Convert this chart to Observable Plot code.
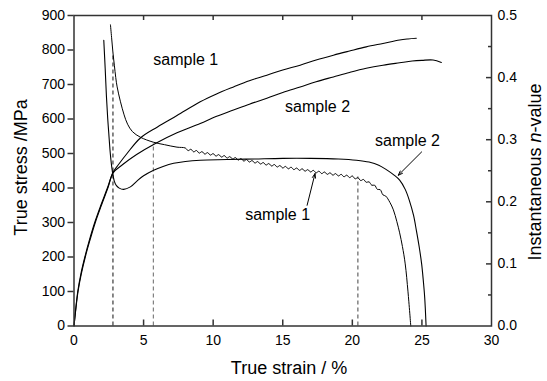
<!DOCTYPE html>
<html><head><meta charset="utf-8">
<script src="https://cdn.jsdelivr.net/npm/d3@7"></script>
<script src="https://cdn.jsdelivr.net/npm/@observablehq/plot@0.6"></script>
<style>body{margin:0;background:#fff;} svg{display:block}</style>
</head><body><div id="chart"></div>
<script>
// ---- data ----
const strainStress1 = [0,0.1,0.27,0.5,0.78,1.1,1.49,1.95,2.42,2.81,3.2,3.81,4.77,6,7.4,9.07,10.2,11.46,12.6,13.86,15,16.25,17.4,18.64,19.8,21,22.2,23.4,24.0,24.6];
const stress1 = [0,40,100,152,200,248,300,352,402,446,468,500,545,577,610,650,672,693,711,727,742,756,771,785,797,809,819,829,832,834];
const strainStress2 = [0,0.1,0.29,0.52,0.81,1.14,1.53,1.99,2.45,2.81,3.5,4.5,5.85,7.4,9.07,10.2,11.46,12.6,13.86,15,16.25,17.4,18.64,19.8,21,22.2,23.4,24.3,25.0,25.8,26.4];
const stress2 = [0,38,100,150,200,248,300,352,402,444,468,497,529,560,587,607,626,643,660,677,693,708,722,735,747,756,763,768,770,771,764];
// sample 1 n-value (serrated)
const strainN1 = [2.62,2.7,2.8,2.9,3.0,3.1,3.33,3.6,3.85,4.2,4.77,5.7,6.5,7.4,
  8.0,8.2,8.4,8.6,8.8,9.0,9.2,9.4,9.6,9.8,10.0,10.2,10.4,10.6,10.8,11.0,11.2,11.4,11.6,11.8,
  12.0,12.2,12.4,12.6,12.8,13.0,13.2,13.4,13.6,13.8,14.0,14.2,14.4,14.6,14.8,15.0,15.2,15.4,15.6,15.8,
  16.0,16.2,16.4,16.6,16.8,17.0,17.2,17.4,17.6,17.8,18.0,18.2,18.4,18.6,18.8,19.0,19.2,19.4,19.6,19.8,
  20.0,20.2,20.4,20.6,20.8,21.0,21.2,21.4,21.6,21.8,22.0,22.2,22.4,
  22.7,22.95,23.2,23.4,23.6,23.8,24.0,24.2];
const n1 = [0.485,0.465,0.44,0.42,0.40,0.385,0.362,0.340,0.325,0.313,0.304,0.296,0.292,0.288,
  0.2866,0.2824,0.2846,0.2804,0.2826,0.2784,0.2808,0.2768,0.2792,0.2752,0.2776,0.2736,0.2760,0.2720,0.2744,0.2704,0.2728,0.2688,0.2712,0.2672,
  0.2696,0.2656,0.2680,0.2640,0.2664,0.2624,0.2648,0.2608,0.2632,0.2592,0.2616,0.2576,0.2600,0.2560,0.2584,0.2544,0.2570,0.2531,0.2557,0.2518,
  0.2544,0.2506,0.2531,0.2493,0.2518,0.2480,0.2506,0.2467,0.2493,0.2454,0.2480,0.2442,0.2467,0.2429,0.2454,0.2416,0.2442,0.2403,0.2429,0.2390,
  0.2416,0.2370,0.2388,0.2342,0.2360,0.2314,0.2322,0.2266,0.2268,0.2200,0.2196,0.2112,0.2092,
  0.1990,0.1870,0.1680,0.1500,0.1280,0.1000,0.0550,0];
// sample 2 n-value (smooth)
const strainN2 = [2.14,2.24,2.33,2.42,2.5,2.62,2.75,2.9,3.05,3.25,3.57,4.05,4.5,5.0,5.72,6.4,7.16,8.0,9.07,11,13,15,17,19,20.3,21.2,21.9,22.5,23.0,23.4,23.8,24.1,24.4,24.6,24.8,24.98,25.1,25.2,25.3];
const n2 = [0.46,0.415,0.37,0.335,0.31,0.275,0.25,0.233,0.226,0.222,0.220,0.224,0.233,0.242,0.251,0.257,0.262,0.265,0.267,0.268,0.269,0.270,0.270,0.269,0.267,0.264,0.259,0.251,0.243,0.235,0.220,0.202,0.178,0.154,0.128,0.100,0.073,0.046,0];
const dashStrain = [2.8, 5.7, 20.4];
const dashTopN = [0.44, 0.294, 0.240];
const dashColor = ["#111", "#666", "#444"];
const xTicks = [0,5,10,15,20,25,30];
const stressTicks = [0,100,200,300,400,500,600,700,800,900];
const nTicks = [0,0.1,0.2,0.3,0.4,0.5];
const nMinor = [0.05,0.15,0.25,0.35,0.45];
// annotations (strain, stress) for text; arrows in (strain, n)
const labelText = ["sample 1","sample 2","sample 2","sample 1"];
const labelStrain = [5.7, 15.17, 21.63, 12.3];
const labelStress = [771, 634, 538, 321];
const arrowFromStrain = [24.98, 16.75];
const arrowFromN = [0.2803, 0.1944];
const arrowToStrain = [23.3, 17.32];
const arrowToN = [0.2427, 0.2455];

// ---- build ----
const N = 1800; // n-value -> stress-axis units (0.5 -> 900)
const rows = (xs, ys, k=1) => xs.map((x,i)=>({x, y: ys[i]*k}));
const W=547, H=381, mL=73.5, mR=56, mT=15, mB=55.5;
const pW = W-mL-mR, pH = H-mT-mB;
const lineOpts = {x:"x", y:"y", stroke:"#000", strokeWidth:1.1, curve:"catmull-rom"};
const dashes = dashStrain.map((x,i)=>({x, top: dashTopN[i]*N, c: dashColor[i]}));
const labels = labelText.map((t,i)=>({t, x: labelStrain[i], y: labelStress[i]}));
const arrows = arrowFromStrain.map((x,i)=>({x1:x, y1:arrowFromN[i]*N, x2:arrowToStrain[i], y2:arrowToN[i]*N}));

const chart = Plot.plot({
  width: W, height: H,
  marginLeft: mL, marginRight: mR, marginTop: mT, marginBottom: mB,
  x: {domain:[0,30]},
  y: {domain:[0,900]},
  style: {fontFamily: "'Liberation Sans', Arial, sans-serif", background:"#fff", color:"#000"},
  marks: [
    Plot.ruleX(dashes, {x:"x", y1:0, y2:"top", stroke:"c", strokeWidth:1, strokeDasharray:"4,3"}),
    Plot.line(rows(strainStress1, stress1), lineOpts),
    Plot.line(rows(strainStress2, stress2), lineOpts),
    Plot.line(rows(strainN1, n1, N), {...lineOpts, strokeWidth:1}),
    Plot.line(rows(strainN2, n2, N), lineOpts),
    Plot.arrow(arrows, {x1:"x1", y1:"y1", x2:"x2", y2:"y2", stroke:"#000", strokeWidth:1, headLength:7, headAngle:40}),
    Plot.text(labels, {x:"x", y:"y", text:"t", textAnchor:"start", lineAnchor:"middle", fontSize:16, fill:"#000"}),
    Plot.frame({stroke:"#333", strokeWidth:1.5}),
    Plot.axisY({anchor:"left", ticks: stressTicks, tickSize:6, tickPadding:3, label:null, fontSize:14, stroke:"#333", strokeWidth:1.5}),
    Plot.axisX({anchor:"bottom", ticks: xTicks, tickSize:0, tickPadding:9, label:null, fontSize:14}),
    Plot.axisY({anchor:"right", ticks: nTicks.map(v=>v*N), tickFormat: d => (d/N).toFixed(1), tickSize:0, tickPadding:6, label:null, fontSize:14}),
    Plot.tickX(xTicks.slice(1,-1), {x: d=>d, insetTop: pH-6, stroke:"#333", strokeWidth:1.5}),
    Plot.tickX(xTicks.slice(1,-1), {x: d=>d, insetBottom: pH-5, stroke:"#333", strokeWidth:1.5}),
    Plot.tickY(nTicks.slice(1,-1), {y: d=>d*N, insetLeft: pW-5, stroke:"#333", strokeWidth:1.5}),
    Plot.tickY(nMinor, {y: d=>d*N, insetLeft: pW-3, stroke:"#333", strokeWidth:1.5})
  ]
});
document.getElementById("chart").appendChild(chart);

// axis titles
const svg = d3.select(chart);
const ff = "'Liberation Sans', Arial, sans-serif";
svg.append("text").attr("transform","translate(27,167.5) rotate(-90)")
  .attr("text-anchor","middle").attr("font-size",18).attr("font-family",ff).attr("fill","#000")
  .text("True stress /MPa");
svg.append("text").attr("x",289).attr("y",374)
  .attr("text-anchor","middle").attr("font-size",18).attr("font-family",ff).attr("fill","#000")
  .text("True strain / %");
const rt = svg.append("text").attr("transform","translate(541,172) rotate(-90)")
  .attr("text-anchor","middle").attr("font-size",18).attr("font-family",ff).attr("fill","#000");
rt.append("tspan").text("Instantaneous ");
rt.append("tspan").attr("font-style","italic").text("n");
rt.append("tspan").text("-value");
</script>
</body></html>
